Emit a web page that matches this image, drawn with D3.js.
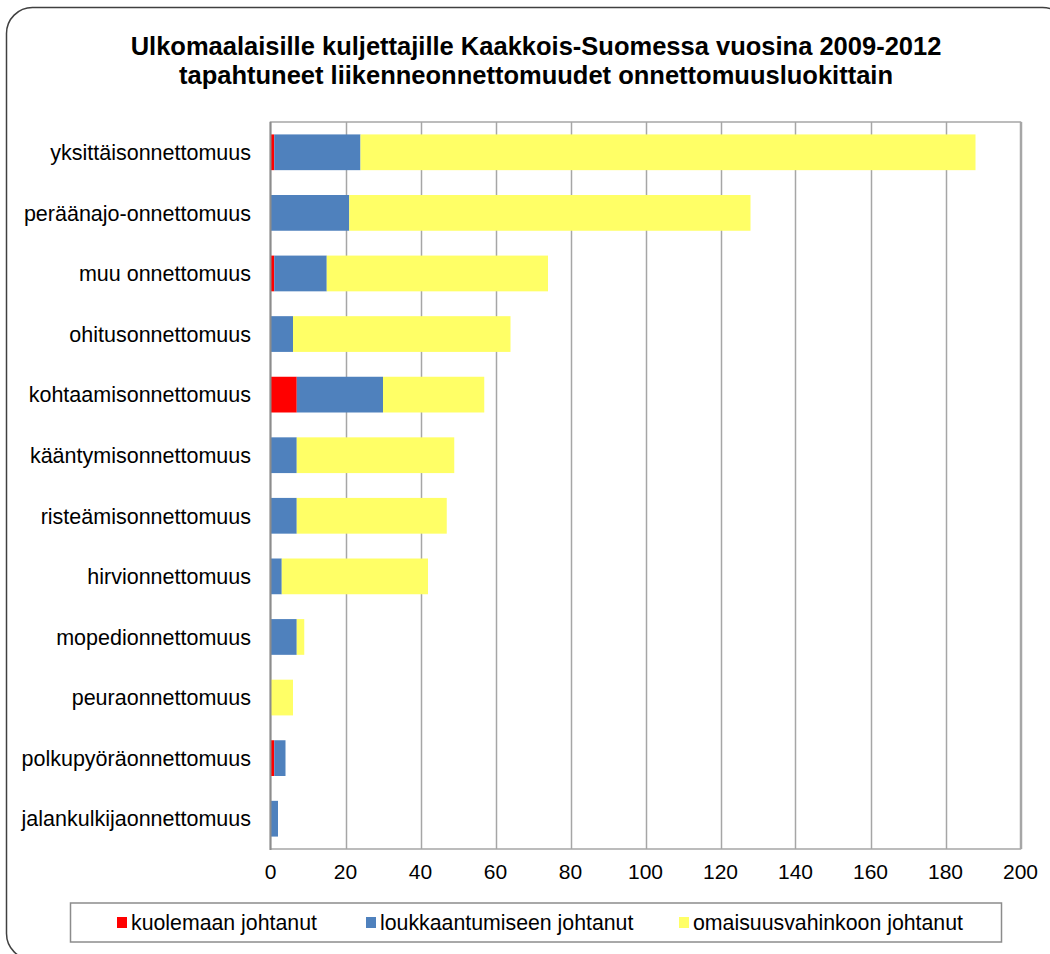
<!DOCTYPE html>
<html><head><meta charset="utf-8">
<script src="https://cdn.jsdelivr.net/npm/d3@7"></script>
<style>body{margin:0;background:#fff}svg{display:block}</style>
</head><body>
<svg id="chart" width="1050" height="954"></svg>
<script>
// Accident categories, top to bottom
const categories = ["yksittäisonnettomuus","peräänajo-onnettomuus","muu onnettomuus","ohitusonnettomuus","kohtaamisonnettomuus","kääntymisonnettomuus","risteämisonnettomuus","hirvionnettomuus","mopedionnettomuus","peuraonnettomuus","polkupyöräonnettomuus","jalankulkijaonnettomuus"];
const fatal    = [1, 0, 1, 0, 7, 0, 0, 0, 0, 0, 1, 0];
const injury   = [23, 21, 14, 6, 23, 7, 7, 3, 7, 0, 3, 2];
const property = [164, 107, 59, 58, 27, 42, 40, 39, 2, 6, 0, 0];
const seriesNames = ["kuolemaan johtanut","loukkaantumiseen johtanut","omaisuusvahinkoon johtanut"];
const seriesColors = ["#ff0000","#4f81bd","#ffff66"];
const xTicks = [0,20,40,60,80,100,120,140,160,180,200];
const titleLines = ["Ulkomaalaisille kuljettajille Kaakkois-Suomessa vuosina 2009-2012","tapahtuneet liikenneonnettomuudet onnettomuusluokittain"];

const svg = d3.select("#chart");
const font = "'Liberation Sans', Arial, sans-serif";

// outer frame with rounded corners
svg.append("rect").attr("x",6.5).attr("y",7.5).attr("width",1062).attr("height",952)
  .attr("rx",26).attr("fill","#fff").attr("stroke","#404040").attr("stroke-width",1.5);

// title
svg.append("g").selectAll("text").data(titleLines).join("text")
  .attr("x",536).attr("y",(d,i)=>55+i*29).attr("text-anchor","middle")
  .attr("font-family",font).attr("font-weight","bold").attr("font-size",25.5).attr("fill","#000")
  .text(d=>d);

const plotL=270.5, plotR=1020.5, plotT=122, plotB=849;
const x = d3.scaleLinear().domain([0,200]).range([plotL,plotR]);
const y = d3.scaleBand().domain(categories).range([plotT,plotB]).paddingInner(0.41).paddingOuter(0.205);

// gridlines
svg.append("g").selectAll("line").data(xTicks.slice(1)).join("line")
  .attr("x1",d=>Math.round(x(d))+0.5).attr("x2",d=>Math.round(x(d))+0.5).attr("y1",plotT).attr("y2",plotB)
  .attr("stroke","#a6a6a6").attr("stroke-width",1.5);
svg.append("rect").attr("x",plotL).attr("y",plotT).attr("width",plotR-plotL).attr("height",plotB-plotT)
  .attr("fill","none").attr("stroke","#a6a6a6").attr("stroke-width",1.5);

// stacked bars
const rows = categories.map((c,i)=>({cat:c, vals:[fatal[i],injury[i],property[i]]}));
const segs = [];
rows.forEach(r=>{ let acc=0; r.vals.forEach((v,k)=>{ if(v>0) segs.push({cat:r.cat,k,x0:acc,x1:acc+v}); acc+=v; }); });
svg.append("g").selectAll("rect").data(segs).join("rect")
  .attr("x",d=>x(d.x0)).attr("width",d=>x(d.x1)-x(d.x0))
  .attr("y",d=>y(d.cat)).attr("height",y.bandwidth())
  .attr("fill",d=>seriesColors[d.k]);

// category axis line
svg.append("line").attr("x1",plotL).attr("x2",plotL).attr("y1",plotT).attr("y2",plotB+1)
  .attr("stroke","#8c8c8c").attr("stroke-width",2);

// category labels
svg.append("g").selectAll("text").data(categories).join("text")
  .attr("x",251).attr("y",d=>y(d)+y.bandwidth()/2).attr("dy","0.36em").attr("text-anchor","end")
  .attr("font-family",font).attr("font-size",21.5).attr("fill","#000").text(d=>d);

// value axis labels
svg.append("g").selectAll("text").data(xTicks).join("text")
  .attr("x",d=>x(d)).attr("y",879).attr("text-anchor","middle")
  .attr("font-family",font).attr("font-size",21).attr("fill","#000").text(d=>d);

// legend
svg.append("rect").attr("x",70.5).attr("y",903).attr("width",931).attr("height",39)
  .attr("fill","#fff").attr("stroke","#8c8c8c").attr("stroke-width",1.5);
const legX = [117, 366, 679];
const lg = svg.append("g").selectAll("g").data(seriesNames).join("g")
  .attr("transform",(d,i)=>`translate(${legX[i]},922.5)`);
lg.append("rect").attr("x",0).attr("y",-5.5).attr("width",10).attr("height",11).attr("fill",(d,i)=>seriesColors[i]);
lg.append("text").attr("x",14).attr("y",0).attr("dy","0.36em")
  .attr("font-family",font).attr("font-size",21.3).attr("fill","#000").text(d=>d);
</script>
</body></html>
